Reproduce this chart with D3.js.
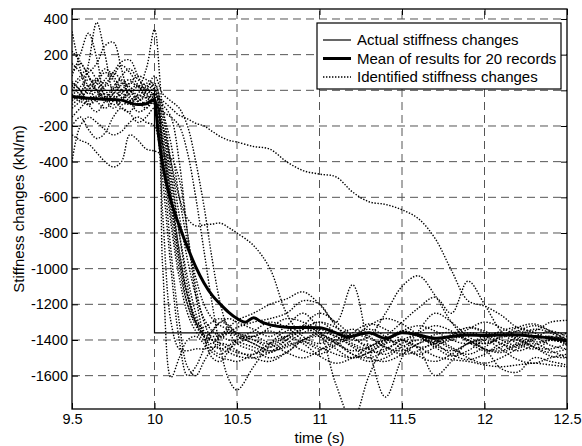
<!DOCTYPE html>
<html><head><meta charset="utf-8">
<script src="https://cdn.jsdelivr.net/npm/d3@7"></script>
<style>body{margin:0;background:#fff}svg{display:block;font-family:"Liberation Sans",Arial,Helvetica,sans-serif}</style>
</head><body><svg id="c" width="582" height="446"></svg>
<script>
// ---- data ----
const xTicks = [9.5, 10, 10.5, 11, 11.5, 12, 12.5];
const xTickLabels = ["9.5", "10", "10.5", "11", "11.5", "12", "12.5"];
const yTicks = [400, 200, 0, -200, -400, -600, -800, -1000, -1200, -1400, -1600];
const yTickLabels = ["400", "200", "0", "-200", "-400", "-600", "-800", "-1000", "-1200", "-1400", "-1600"];

const actualT = [9.5, 10, 10, 12.5];
const actualV = [0, 0, -1360, -1360];

const meanT = [9.5, 9.6, 9.7, 9.8, 9.85, 9.9, 9.95, 10.0, 10.02, 10.05, 10.1, 10.15, 10.2, 10.25, 10.3, 10.35, 10.4, 10.45, 10.5, 10.55, 10.6, 10.65, 10.7, 10.8, 10.9, 11.0, 11.1, 11.17, 11.3, 11.4, 11.5, 11.6, 11.7, 11.8, 11.9, 12.0, 12.1, 12.2, 12.3, 12.4, 12.5];
const meanV = [-35, -45, -50, -55, -70, -80, -75, -50, -220, -420, -620, -760, -880, -990, -1080, -1150, -1200, -1245, -1280, -1300, -1275, -1300, -1315, -1328, -1330, -1332, -1360, -1383, -1360, -1390, -1360, -1372, -1390, -1380, -1372, -1375, -1372, -1372, -1380, -1390, -1405];

const recordT = [9.5, 9.55, 9.6, 9.65, 9.7, 9.75, 9.8, 9.85, 9.9, 9.95, 10.0, 10.05, 10.1, 10.15, 10.2, 10.25, 10.3, 10.35, 10.4, 10.45, 10.5, 10.6, 10.7, 10.8, 10.9, 11.0, 11.1, 11.2, 11.3, 11.4, 11.5, 11.6, 11.7, 11.8, 11.9, 12.0, 12.1, 12.2, 12.3, 12.4, 12.5];
const identifiedRecords = [
 [330, 120, -20, 40, 100, 60, -40, -80, -20, 40, 0, -350, -750, -1050, -1250, -1350, -1400, -1420, -1380, -1350, -1370, -1400, -1420, -1380, -1340, -1300, -1360, -1420, -1450, -1400, -1350, -1380, -1420, -1400, -1360, -1380, -1420, -1440, -1400, -1380, -1400],
 [80, 200, 320, 180, -40, -100, -60, 0, -60, -100, -60, -200, -500, -800, -1050, -1250, -1380, -1450, -1480, -1450, -1420, -1380, -1350, -1400, -1460, -1480, -1430, -1380, -1340, -1380, -1450, -1480, -1440, -1380, -1330, -1360, -1420, -1460, -1430, -1400, -1420],
 [-50, -20, 150, 380, 200, -20, -100, -120, -60, -40, -20, -80, -150, -400, -800, -1150, -1380, -1500, -1520, -1460, -1400, -1350, -1300, -1330, -1400, -1450, -1420, -1360, -1310, -1340, -1400, -1440, -1420, -1370, -1330, -1350, -1400, -1430, -1390, -1350, -1380],
 [0, 60, 100, 150, 250, 270, 120, -50, -120, -100, -60, -300, -700, -1000, -1200, -1300, -1330, -1300, -1280, -1320, -1370, -1420, -1460, -1400, -1320, -1250, -1300, -1380, -1450, -1480, -1420, -1360, -1320, -1350, -1410, -1460, -1440, -1380, -1340, -1360, -1420],
 [-100, -60, 20, 60, 40, 100, 160, 170, 80, 0, 30, -120, -400, -700, -950, -1150, -1280, -1350, -1380, -1400, -1410, -1440, -1470, -1420, -1360, -1340, -1380, -1430, -1470, -1450, -1400, -1370, -1400, -1450, -1480, -1440, -1380, -1350, -1380, -1430, -1450],
 [-60, -20, 30, 0, -50, -20, 30, 60, 20, 120, 340, -100, -300, -600, -850, -1050, -1200, -1280, -1320, -1340, -1360, -1380, -1330, -1280, -1300, -1360, -1400, -1380, -1320, -1280, -1310, -1370, -1410, -1390, -1340, -1300, -1330, -1380, -1410, -1400, -1380],
 [220, 160, 80, 0, -60, -20, 40, 20, -40, -80, -60, -400, -900, -1300, -1550, -1600, -1520, -1450, -1420, -1430, -1460, -1500, -1520, -1470, -1400, -1370, -1410, -1480, -1520, -1500, -1440, -1400, -1420, -1480, -1510, -1480, -1420, -1400, -1440, -1490, -1500],
 [-400, -200, -150, -180, -220, -250, -230, -180, -150, -180, -200, -1000, -1610, -1500, -1400, -1380, -1420, -1470, -1500, -1510, -1520, -1480, -1420, -1380, -1420, -1490, -1530, -1500, -1440, -1400, -1430, -1490, -1520, -1480, -1420, -1400, -1450, -1510, -1530, -1500, -1480],
 [-250, -280, -300, -350, -400, -430, -400, -250, -280, -330, -340, -360, -380, -500, -800, -1100, -1300, -1400, -1450, -1430, -1400, -1380, -1420, -1470, -1500, -1460, -1400, -1370, -1390, -1440, -1480, -1460, -1410, -1380, -1400, -1450, -1470, -1430, -1390, -1380, -1410],
 [-20, -60, -80, -40, -20, -50, -80, -60, -30, -40, -40, -60, -100, -140, -160, -185, -200, -230, -260, -280, -290, -315, -330, -400, -450, -470, -485, -570, -625, -640, -670, -720, -830, -1010, -1180, -1210, -1260, -1330, -1350, -1300, -1290],
 [40, 0, -60, -30, 30, 10, -40, -20, 20, 0, -50, -200, -400, -600, -720, -760, -755, -750, -745, -770, -800, -870, -1000, -1250, -1380, -1420, -1380, -1340, -1380, -1440, -1460, -1420, -1370, -1360, -1400, -1450, -1460, -1420, -1380, -1390, -1430],
 [50, 0, -80, -120, -60, 20, 60, 0, -60, 0, 80, -20, -60, -100, -200, -400, -650, -950, -1200, -1350, -1420, -1460, -1500, -1470, -1400, -1360, -1380, -1440, -1500, -1520, -1480, -1420, -1400, -1440, -1500, -1530, -1500, -1450, -1420, -1460, -1500],
 [150, 100, 20, -60, -100, -60, 0, 40, 20, -40, -80, -120, -150, -200, -350, -600, -900, -1200, -1450, -1620, -1680, -1550, -1420, -1350, -1330, -1380, -1450, -1500, -1470, -1410, -1360, -1380, -1440, -1490, -1460, -1400, -1370, -1390, -1440, -1470, -1450],
 [-150, -100, -50, 0, 60, 100, 50, -30, -80, -60, -20, -150, -450, -800, -1100, -1300, -1380, -1350, -1300, -1280, -1300, -1340, -1380, -1320, -1250, -1350, -1650, -1850, -1600, -1420, -1350, -1380, -1430, -1460, -1420, -1380, -1360, -1400, -1440, -1450, -1420],
 [100, 150, 80, 0, -40, 0, 80, 120, 60, 20, -40, -250, -600, -950, -1200, -1320, -1380, -1400, -1390, -1360, -1330, -1300, -1280, -1250, -1180, -1200, -1300, -1090, -1450, -1720, -1500, -1350, -1250, -1300, -1380, -1420, -1390, -1350, -1320, -1350, -1400],
 [30, -30, -80, -50, 20, 80, 140, 100, 30, -20, 10, -300, -650, -950, -1150, -1280, -1350, -1380, -1370, -1330, -1290, -1250, -1200, -1170, -1130, -1200, -1320, -1400, -1380, -1250, -1100, -1040, -1150, -1300, -1400, -1420, -1380, -1330, -1310, -1350, -1400],
 [-80, -40, 0, 60, 120, 80, 0, -60, -40, 20, 40, -200, -550, -900, -1150, -1300, -1370, -1400, -1420, -1450, -1470, -1480, -1440, -1380, -1320, -1360, -1420, -1460, -1440, -1380, -1300, -1220, -1160, -1250, -1070, -1200, -1350, -1420, -1450, -1400, -1360],
 [-200, -150, -220, -270, -240, -150, -100, -130, -180, -150, -100, -300, -600, -900, -1150, -1300, -1380, -1400, -1380, -1360, -1380, -1420, -1460, -1440, -1400, -1380, -1420, -1480, -1500, -1460, -1400, -1450, -1600, -1520, -1420, -1450, -1560, -1580, -1500, -1520, -1540],
 [20, 80, 120, 60, 0, -40, -20, 40, 80, 60, 20, -700, -1300, -1450, -1460, -1450, -1450, -1440, -1450, -1470, -1490, -1500, -1470, -1430, -1410, -1440, -1480, -1500, -1470, -1420, -1400, -1440, -1490, -1510, -1520, -1540, -1550, -1540, -1530, -1540, -1550],
 [-30, 20, 60, 40, -30, -80, -50, 0, 30, -20, -80, -500, -1000, -1400, -1600, -1550, -1450, -1350, -1300, -1320, -1360, -1400, -1440, -1400, -1340, -1300, -1330, -1390, -1430, -1400, -1350, -1320, -1350, -1400, -1420, -1390, -1350, -1330, -1360, -1400, -1410]
];

const legendLabels = ["Actual stiffness changes", "Mean of results for 20 records", "Identified stiffness changes"];

// ---- layout ----
const svg = d3.select("#c");
const L = 72, R = 567, Tp = 9, B = 409;
const x = d3.scaleLinear().domain([9.5, 12.5]).range([L, R]);
const y = d3.scaleLinear().domain([-1787, 456]).range([B, Tp]);

svg.append("defs").append("clipPath").attr("id", "clip")
  .append("rect").attr("x", L).attr("y", Tp).attr("width", R - L).attr("height", B - Tp);

// grid
const grid = svg.append("g").attr("stroke", "#555").attr("stroke-width", 1).attr("stroke-dasharray", "8,5").attr("fill", "none");
xTicks.slice(1, -1).forEach(t => grid.append("line").attr("x1", x(t)).attr("x2", x(t)).attr("y1", B).attr("y2", Tp));
yTicks.forEach(v => grid.append("line").attr("x1", L).attr("x2", R).attr("y1", y(v)).attr("y2", y(v)));

const plot = svg.append("g").attr("clip-path", "url(#clip)");
const lineRec = d3.line().x((d, i) => x(recordT[i])).y(d => y(d)).curve(d3.curveCatmullRom.alpha(0.5));
identifiedRecords.forEach(rec => {
  plot.append("path").attr("d", lineRec(rec)).attr("fill", "none").attr("stroke", "#000")
    .attr("stroke-width", 1.4).attr("stroke-dasharray", "1.4,1.6");
});
const lineAct = d3.line().x((d, i) => x(actualT[i])).y(d => y(d));
plot.append("path").attr("d", lineAct(actualV)).attr("fill", "none").attr("stroke", "#000").attr("stroke-width", 1.2);
const lineMean = d3.line().x((d, i) => x(meanT[i])).y(d => y(d)).curve(d3.curveMonotoneX);
plot.append("path").attr("d", lineMean(meanV)).attr("fill", "none").attr("stroke", "#000").attr("stroke-width", 3);

// axes
const ax = svg.append("g");
const xAxisB = d3.axisBottom(x).tickValues(xTicks).tickSizeInner(-6).tickSizeOuter(0).tickPadding(5).tickFormat((d, i) => xTickLabels[i]);
const xAxisT = d3.axisTop(x).tickValues(xTicks).tickSizeInner(-6).tickSizeOuter(0).tickFormat("");
const yAxisL = d3.axisLeft(y).tickValues(yTicks).tickSizeInner(-6).tickSizeOuter(0).tickPadding(4).tickFormat((d, i) => yTickLabels[i]);
const yAxisR = d3.axisRight(y).tickValues(yTicks).tickSizeInner(-6).tickSizeOuter(0).tickFormat("");
[ [xAxisB, `translate(0,${B})`], [xAxisT, `translate(0,${Tp})`], [yAxisL, `translate(${L},0)`], [yAxisR, `translate(${R},0)`] ].forEach(([a, tr]) => {
  const g = ax.append("g").attr("transform", tr).call(a);
  g.select(".domain").remove();
  g.selectAll("line").attr("stroke", "#000").attr("stroke-width", 1);
  g.selectAll("text").attr("font-size", "14.5px").attr("fill", "#000").attr("font-family", "Liberation Sans, Arial, sans-serif");
});
svg.append("rect").attr("x", L).attr("y", Tp).attr("width", R - L).attr("height", B - Tp)
  .attr("fill", "none").attr("stroke", "#000").attr("stroke-width", 1.3);

svg.append("text").attr("x", (L + R) / 2).attr("y", 443).attr("text-anchor", "middle").attr("font-size", "15px").text("time (s)");
svg.append("text").attr("transform", `translate(24,${(Tp + B) / 2}) rotate(-90)`).attr("text-anchor", "middle").attr("font-size", "15px").text("Stiffness changes (kN/m)");

// legend
const lg = svg.append("g");
lg.append("rect").attr("x", 317).attr("y", 23).attr("width", 244).attr("height", 66).attr("fill", "#fff").attr("stroke", "#000").attr("stroke-width", 1.2);
const legStyles = [{w: 1.2, dash: null}, {w: 3, dash: null}, {w: 1.4, dash: "1.4,1.6"}];
legendLabels.forEach((lab, i) => {
  const yy = 40 + i * 18.5;
  const ln = lg.append("line").attr("x1", 323).attr("x2", 351).attr("y1", yy).attr("y2", yy).attr("stroke", "#000").attr("stroke-width", legStyles[i].w);
  if (legStyles[i].dash) ln.attr("stroke-dasharray", legStyles[i].dash);
  lg.append("text").attr("x", 357).attr("y", yy).attr("dy", "0.36em").attr("font-size", "15px").text(lab);
});
</script></body></html>
